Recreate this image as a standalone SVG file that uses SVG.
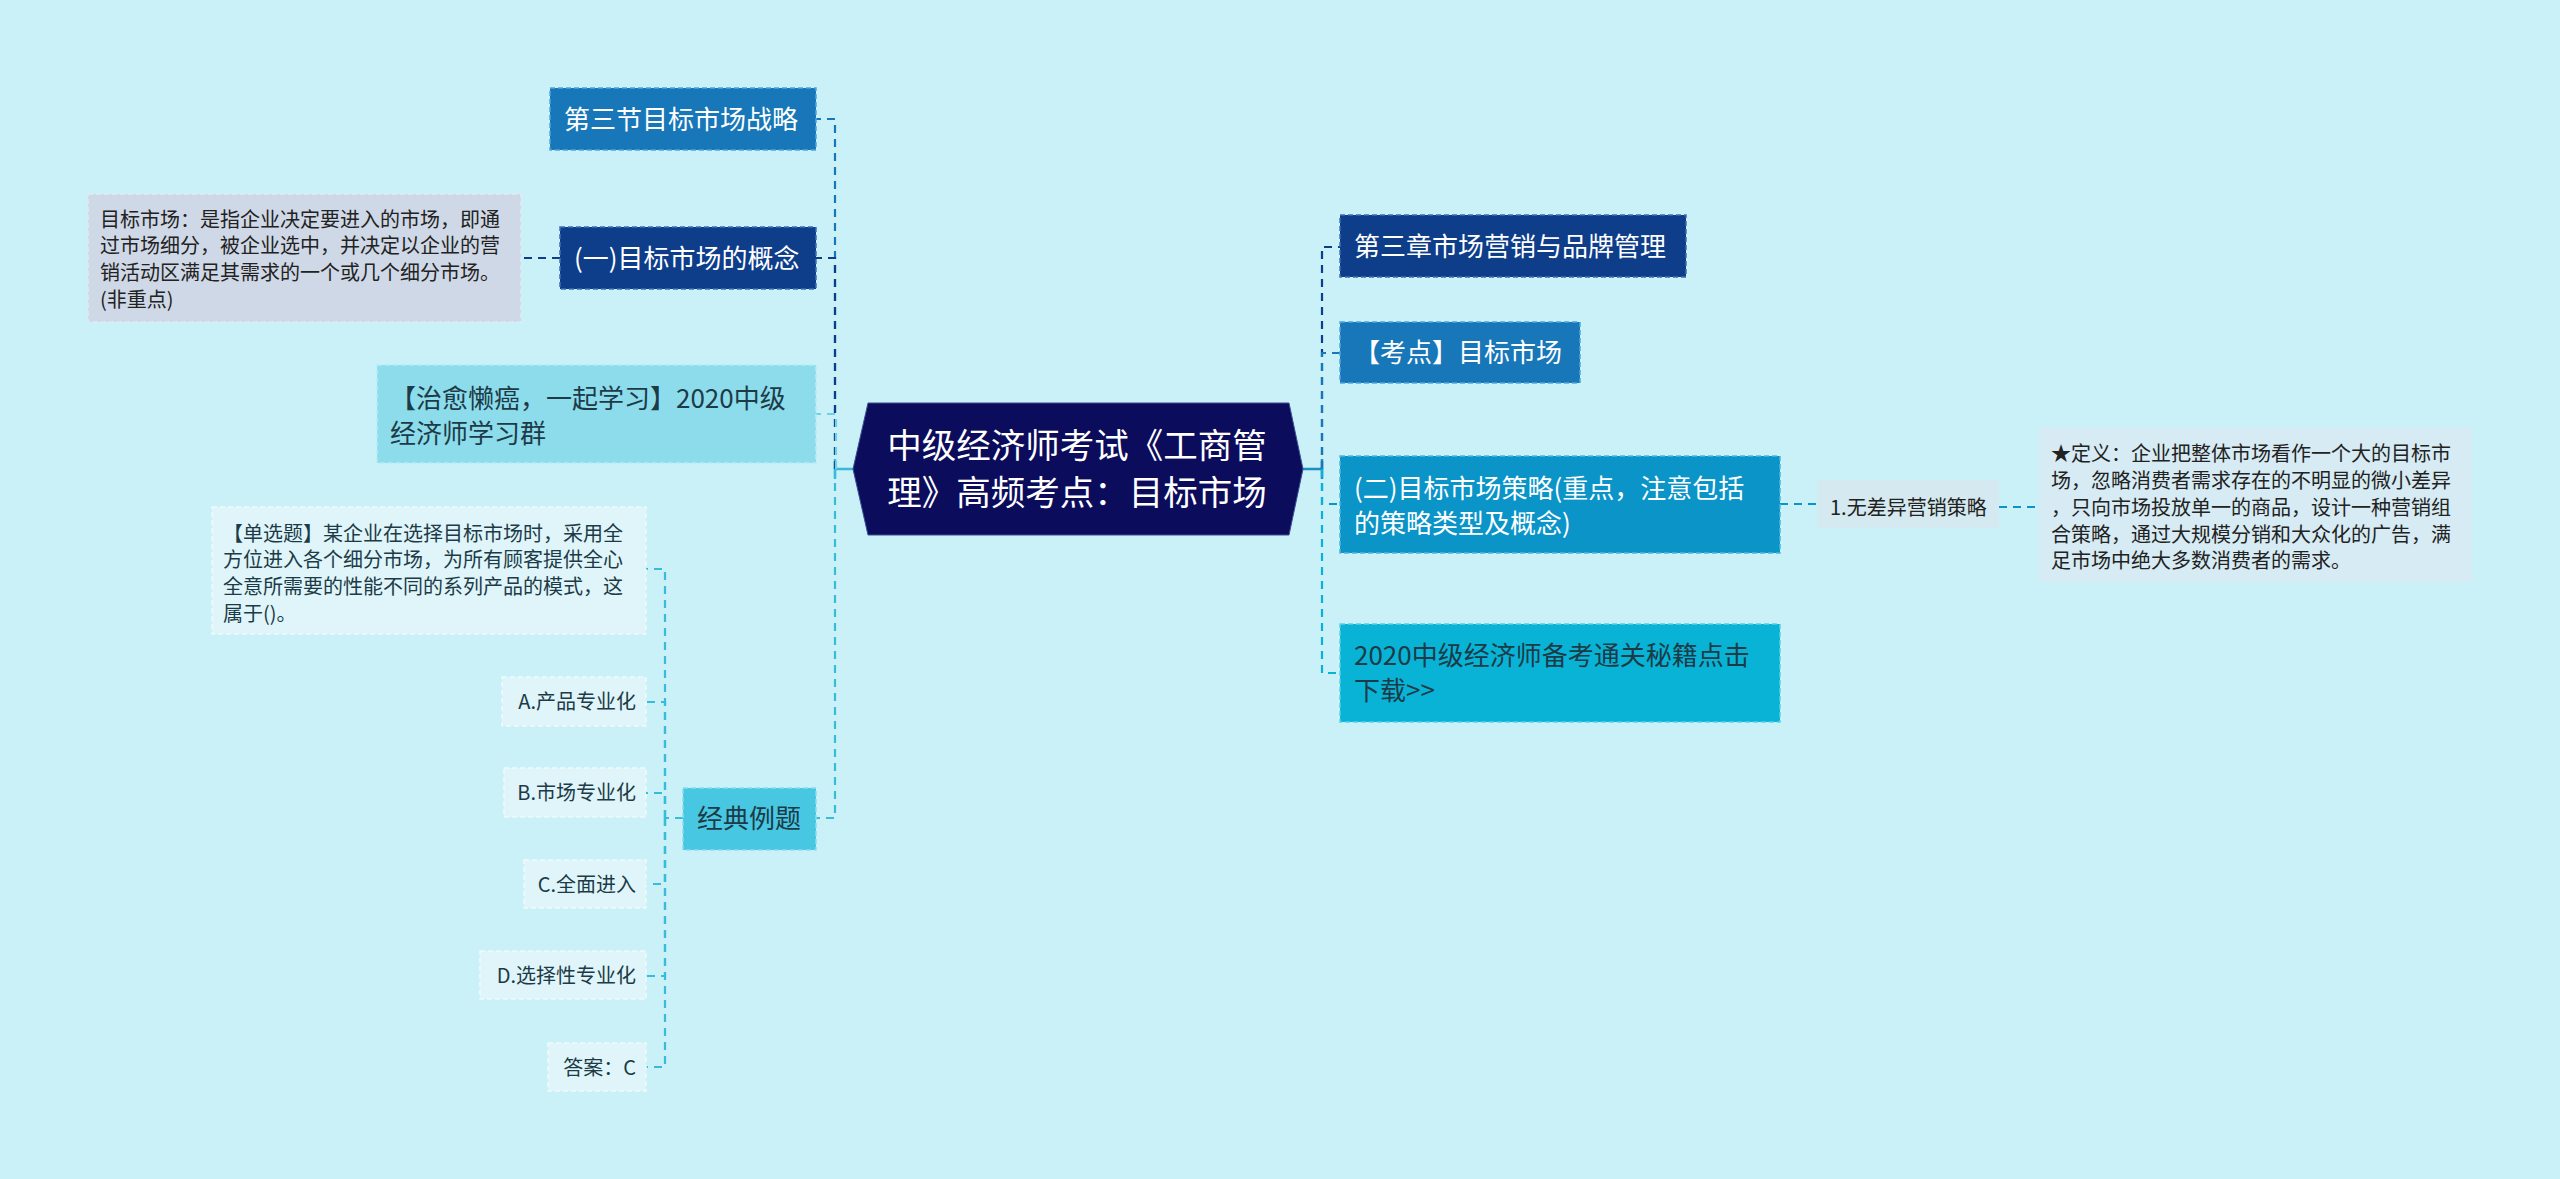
<svg xmlns="http://www.w3.org/2000/svg" width="2560" height="1179" viewBox="0 0 2560 1179">
<style>
text{font-family:"Noto Sans CJK SC","Noto Sans",sans-serif}
.w{fill:#ffffff}
.d{fill:#1c3b47}
.k{fill:#222222}
.t26{font-size:26px}
.t20{font-size:20px}
.bx{stroke-width:1.5;stroke-dasharray:5 3}
.c{fill:none;stroke-width:2.2;stroke-dasharray:8 6}
.s{fill:none;stroke-width:2.5}
</style>
<rect x="0" y="0" width="2560" height="1179" fill="#caf0f8"/>
<g id="connectors">
  <path class="s" stroke="#3ab9d6" d="M853 469 H835 M835 459 V479"/>
  <path class="s" stroke="#1a8fc0" d="M1303 469 H1322 M1322 459 V479"/>
  <path class="c" stroke="#1877b8" d="M835 469 V119 H816"/>
  <path class="c" stroke="#0e3d8a" d="M835 469 V258 H816"/>
  <path class="c" stroke="#6fd0e6" d="M836 469 V414 H816"/>
  <path class="c" stroke="#38bcd9" d="M835 469 V818 H816"/>
  <path class="c" stroke="#0e3d8a" d="M560 258 H521"/>
  <path class="c" stroke="#38bcd9" d="M683 818 H665"/>
  <path class="c" stroke="#38bcd9" d="M665 818 V569 H646"/>
  <path class="c" stroke="#38bcd9" d="M665 818 V702 H646"/>
  <path class="c" stroke="#38bcd9" d="M665 818 V793 H646"/>
  <path class="c" stroke="#38bcd9" d="M665 818 V884 H646"/>
  <path class="c" stroke="#38bcd9" d="M665 818 V976 H646"/>
  <path class="c" stroke="#38bcd9" d="M665 818 V1067 H646"/>
  <path class="c" stroke="#0e3d8a" d="M1322 469 V247 H1340"/>
  <path class="c" stroke="#1877b8" d="M1322 469 V353 H1340"/>
  <path class="c" stroke="#0a94c8" d="M1322 469 V504 H1340"/>
  <path class="c" stroke="#08b3d6" d="M1322 469 V673 H1340"/>
  <path class="c" stroke="#0a94c8" d="M1780 504 H1817"/>
  <path class="c" stroke="#0a94c8" d="M1999 507 H2039"/>
</g>
<g id="center">
  <polygon points="853,469 868,403 1289,403 1303,469 1289,535 868,535" fill="#0c0c5c" stroke="#3b4f94" stroke-width="1"/>
  <text class="w" x="1077" y="458" font-size="34.5" text-anchor="middle">中级经济师考试《工商管</text>
  <text class="w" x="1077" y="505" font-size="34.5" text-anchor="middle">理》高频考点：目标市场</text>
</g>
<g id="n-sec3">
  <rect class="bx" x="550" y="88" width="266" height="62" fill="#1877b8" stroke="#4fa6da"/>
  <text class="w t26" x="564" y="129">第三节目标市场战略</text>
</g>
<g id="n-concept">
  <rect class="bx" x="560" y="227" width="256" height="62" fill="#0e3d8a" stroke="#3f6db5"/>
  <text class="w t26" x="574" y="268">(一)目标市场的概念</text>
</g>
<g id="n-concept-def">
  <rect class="bx" x="88" y="194" width="433" height="128" fill="#cfd8e6" stroke="#e4eaf2"/>
  <text class="k t20" x="100" y="227">目标市场：是指企业决定要进入的市场，即通</text>
  <text class="k t20" x="100" y="253">过市场细分，被企业选中，并决定以企业的营</text>
  <text class="k t20" x="100" y="280">销活动区满足其需求的一个或几个细分市场。</text>
  <text class="k t20" x="100" y="307">(非重点)</text>
</g>
<g id="n-group">
  <rect class="bx" x="377" y="365" width="439" height="98" fill="#8cdcec" stroke="#b6ebf5"/>
  <text class="d t26" x="390" y="408">【治愈懒癌，一起学习】2020中级</text>
  <text class="d t26" x="390" y="443">经济师学习群</text>
</g>
<g id="n-example">
  <rect class="bx" x="683" y="788" width="133" height="62" fill="#48c7e2" stroke="#8adcef"/>
  <text class="d t26" x="697" y="828">经典例题</text>
</g>
<g id="n-question">
  <rect class="bx" x="212" y="507" width="434" height="127" fill="#dff5fa" stroke="#eefafd"/>
  <text class="d t20" x="223" y="541">【单选题】某企业在选择目标市场时，采用全</text>
  <text class="d t20" x="223" y="567">方位进入各个细分市场，为所有顾客提供全心</text>
  <text class="d t20" x="223" y="594">全意所需要的性能不同的系列产品的模式，这</text>
  <text class="d t20" x="223" y="621">属于()。</text>
</g>
<g id="n-optA">
  <rect class="bx" x="502" y="677" width="144" height="49" fill="#dff5fa" stroke="#eefafd"/>
  <text class="d t20" x="636" y="709" text-anchor="end">A.产品专业化</text>
</g>
<g id="n-optB">
  <rect class="bx" x="504" y="768" width="142" height="49" fill="#dff5fa" stroke="#eefafd"/>
  <text class="d t20" x="636" y="800" text-anchor="end">B.市场专业化</text>
</g>
<g id="n-optC">
  <rect class="bx" x="524" y="860" width="122" height="48" fill="#dff5fa" stroke="#eefafd"/>
  <text class="d t20" x="636" y="892" text-anchor="end">C.全面进入</text>
</g>
<g id="n-optD">
  <rect class="bx" x="480" y="951" width="166" height="48" fill="#dff5fa" stroke="#eefafd"/>
  <text class="d t20" x="636" y="983" text-anchor="end">D.选择性专业化</text>
</g>
<g id="n-answer">
  <rect class="bx" x="548" y="1043" width="98" height="48" fill="#dff5fa" stroke="#eefafd"/>
  <text class="d t20" x="636" y="1075" text-anchor="end">答案：C</text>
</g>
<g id="n-chapter3">
  <rect class="bx" x="1340" y="215" width="346" height="62" fill="#0e3d8a" stroke="#3f6db5"/>
  <text class="w t26" x="1354" y="256">第三章市场营销与品牌管理</text>
</g>
<g id="n-kaodian">
  <rect class="bx" x="1340" y="322" width="240" height="61" fill="#1877b8" stroke="#4fa6da"/>
  <text class="w t26" x="1354" y="362">【考点】目标市场</text>
</g>
<g id="n-strategy">
  <rect class="bx" x="1340" y="456" width="440" height="97" fill="#0a94c8" stroke="#4cb7e0"/>
  <text class="w t26" x="1354" y="498">(二)目标市场策略(重点，注意包括</text>
  <text class="w t26" x="1354" y="533">的策略类型及概念)</text>
</g>
<g id="n-download">
  <rect class="bx" x="1340" y="624" width="440" height="98" fill="#08b3d6" stroke="#5ccfe6"/>
  <text class="d t26" x="1354" y="665">2020中级经济师备考通关秘籍点击</text>
  <text class="d t26" x="1354" y="700">下载&gt;&gt;</text>
</g>
<g id="n-undiff">
  <rect x="1817" y="480" width="182" height="48" fill="#d4e9f0"/>
  <text class="k t20" x="1830" y="515">1.无差异营销策略</text>
</g>
<g id="n-undiff-def">
  <rect x="2039" y="427" width="433" height="155" fill="#d6ebf3"/>
  <text class="k t20" x="2051" y="461">★定义：企业把整体市场看作一个大的目标市</text>
  <text class="k t20" x="2051" y="488">场，忽略消费者需求存在的不明显的微小差异</text>
  <text class="k t20" x="2051" y="515">，只向市场投放单一的商品，设计一种营销组</text>
  <text class="k t20" x="2051" y="542">合策略，通过大规模分销和大众化的广告，满</text>
  <text class="k t20" x="2051" y="568">足市场中绝大多数消费者的需求。</text>
</g>
</svg>
